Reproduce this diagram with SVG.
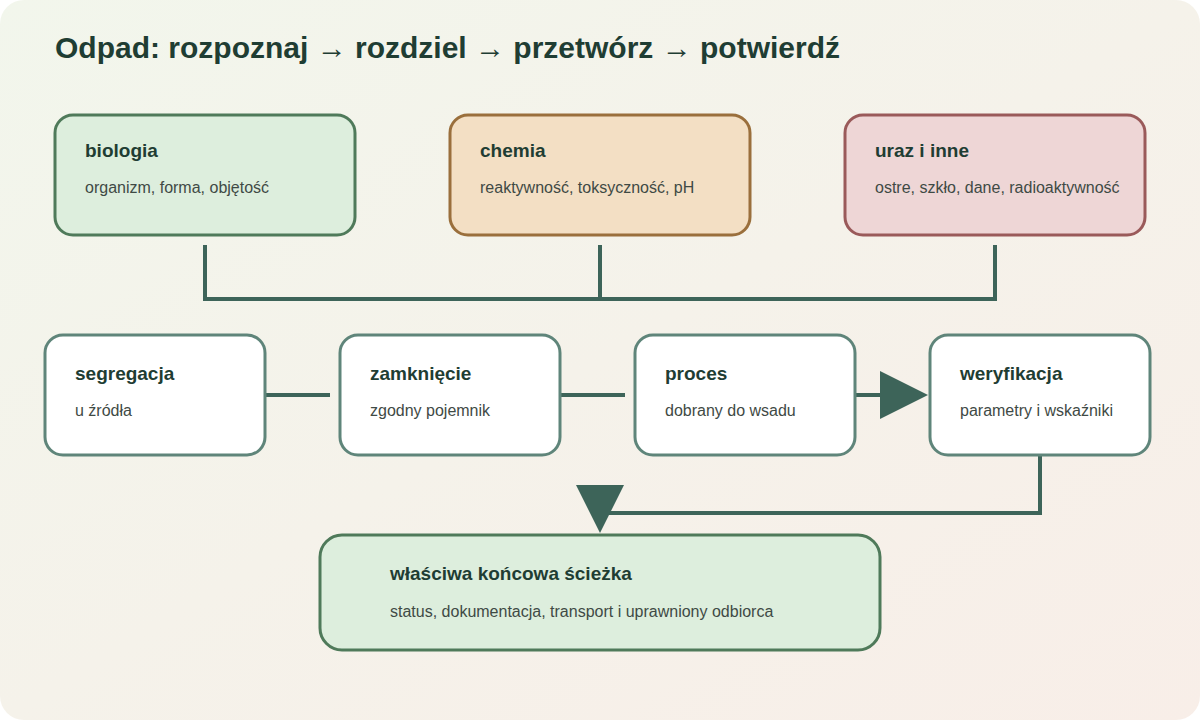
<svg xmlns="http://www.w3.org/2000/svg" width="1200" height="720" viewBox="0 0 1200 720">
<defs>
<linearGradient id="bg" x1="0" y1="0" x2="1" y2="1"><stop offset="0" stop-color="#f2f6ec"/><stop offset="1" stop-color="#f8eee8"/></linearGradient>
<style>
.t{font-family:"Liberation Sans",Arial,sans-serif;font-weight:bold;font-size:19px;fill:#1f3d33}
.s{font-family:"Liberation Sans",Arial,sans-serif;font-size:16px;fill:#3f4a45}
.w{fill:#fff;stroke:#5f857a;stroke-width:3}
.c{fill:none;stroke:#3d6459;stroke-width:4}
</style>
</defs>
<rect width="1200" height="720" rx="24" fill="url(#bg)"/>
<text x="55" y="58" font-family="Liberation Sans,Arial,sans-serif" font-weight="bold" font-size="30" fill="#1f3d33">Odpad: rozpoznaj → rozdziel → przetwórz → potwierdź</text>
<g id="connectors">
<path class="c" d="M205 245V299M600 245V299M995 245V299M203 299H997"/>
<path class="c" d="M265 395H330M560 395H625M855 395H882"/>
<polygon points="880,371 928,395 880,419" fill="#3d6459"/>
<path class="c" d="M1040 455V513H600"/>
<polygon points="576,485 624,485 600,533" fill="#3d6459"/>
</g>
<g id="biologia"><rect x="55" y="115" width="300" height="120" rx="18" fill="#ddeedd" stroke="#4f7a5a" stroke-width="3"/><text class="t" x="85" y="157">biologia</text><text class="s" x="85" y="193">organizm, forma, objętość</text></g>
<g id="chemia"><rect x="450" y="115" width="300" height="120" rx="18" fill="#f3dfc4" stroke="#9a6f3c" stroke-width="3"/><text class="t" x="480" y="157">chemia</text><text class="s" x="480" y="193">reaktywność, toksyczność, pH</text></g>
<g id="uraz"><rect x="845" y="115" width="300" height="120" rx="18" fill="#eed6d6" stroke="#9a5a5a" stroke-width="3"/><text class="t" x="875" y="157">uraz i inne</text><text class="s" x="875" y="193">ostre, szkło, dane, radioaktywność</text></g>
<g id="segregacja"><rect class="w" x="45" y="335" width="220" height="120" rx="18"/><text class="t" x="75" y="380">segregacja</text><text class="s" x="75" y="416">u źródła</text></g>
<g id="zamkniecie"><rect class="w" x="340" y="335" width="220" height="120" rx="18"/><text class="t" x="370" y="380">zamknięcie</text><text class="s" x="370" y="416">zgodny pojemnik</text></g>
<g id="proces"><rect class="w" x="635" y="335" width="220" height="120" rx="18"/><text class="t" x="665" y="380">proces</text><text class="s" x="665" y="416">dobrany do wsadu</text></g>
<g id="weryfikacja"><rect class="w" x="930" y="335" width="220" height="120" rx="18"/><text class="t" x="960" y="380">weryfikacja</text><text class="s" x="960" y="416">parametry i wskaźniki</text></g>
<g id="sciezka"><rect x="320" y="535" width="560" height="115" rx="22" fill="#ddeedd" stroke="#4f7a5a" stroke-width="3"/><text class="t" x="390" y="580">właściwa końcowa ścieżka</text><text class="s" x="390" y="617">status, dokumentacja, transport i uprawniony odbiorca</text></g>
</svg>
